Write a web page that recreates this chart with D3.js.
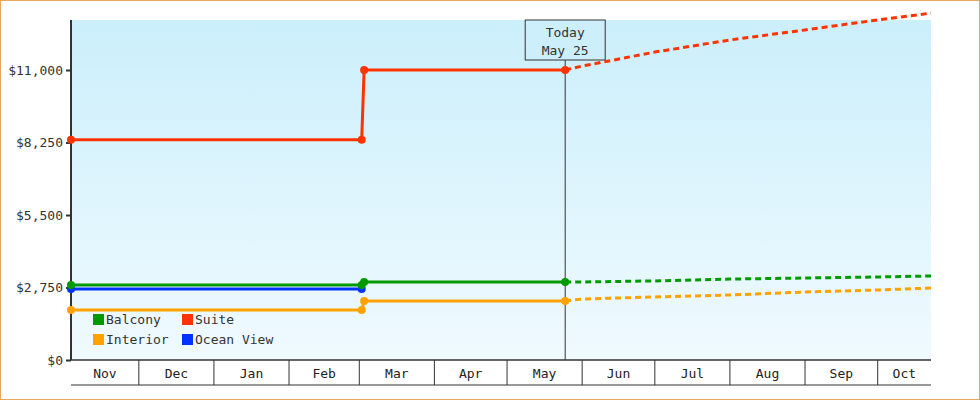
<!DOCTYPE html>
<html><head><meta charset="utf-8">
<script src="https://cdn.jsdelivr.net/npm/d3@7"></script>
<style>body{margin:0}svg{display:block;font-family:"DejaVu Sans Mono",monospace}</style>
</head><body>
<script>
const startDate="2023-11-03", endDate="2024-10-23", todayDate="2024-05-25";
const yTicks=[0,2750,5500,8250,11000];
const monthLabels=["Nov","Dec","Jan","Feb","Mar","Apr","May","Jun","Jul","Aug","Sep","Oct"];
const seriesNames=["Balcony","Suite","Interior","Ocean View"];
const colors={"Balcony":"#009a00","Suite":"#ff3300","Interior":"#ffa200","Ocean View":"#0033ff"};
// actual: [date, value]
const suiteActual=[["2023-11-03",8350],["2024-03-02",8350],["2024-03-03",11000],["2024-05-25",11000]];
const balconyActual=[["2023-11-03",2845],["2024-03-02",2845],["2024-03-03",2960],["2024-05-25",2960]];
const oceanActual=[["2023-11-03",2693],["2024-03-02",2693]];
const interiorActual=[["2023-11-03",1897],["2024-03-02",1897],["2024-03-03",2238],["2024-05-25",2238]];
const suiteForecast=[["2024-05-25",11000],["2024-06-01",11150],["2024-07-01",11680],["2024-08-01",12140],["2024-09-01",12520],["2024-10-01",12900],["2024-10-23",13160]];
const balconyForecast=[["2024-05-25",2960],["2024-06-01",2960],["2024-07-01",3000],["2024-08-01",3070],["2024-09-01",3110],["2024-10-01",3150],["2024-10-23",3186]];
const interiorForecast=[["2024-05-25",2238],["2024-06-01",2314],["2024-07-01",2390],["2024-08-01",2466],["2024-09-01",2579],["2024-10-01",2655],["2024-10-23",2731]];

const W=980,H=400,L=71,R=931,T=20,B=360;
const svg=d3.select("body").append("svg").attr("width",W).attr("height",H);
svg.append("rect").attr("x",0.5).attr("y",0.5).attr("width",W-1).attr("height",H-1).attr("fill","#fff").attr("stroke","#e8a860");
const grad=svg.append("defs").append("linearGradient").attr("id","bg").attr("x1",0).attr("y1",0).attr("x2",0).attr("y2",1);
grad.append("stop").attr("offset","0").attr("stop-color","#cbeffb");
grad.append("stop").attr("offset","1").attr("stop-color","#f0faff");
svg.append("rect").attr("x",L).attr("y",T).attr("width",R-L).attr("height",B-T).attr("fill","url(#bg)");
const p=d3.utcParse("%Y-%m-%d");
const x=d3.scaleUtc().domain([p(startDate),p(endDate)]).range([L,R]);
const y=d3.scaleLinear().domain([0,12897]).range([B,T]);
// y axis
const ya=svg.append("g").attr("transform",`translate(${L},0)`).call(d3.axisLeft(y).tickValues(yTicks).tickSize(5).tickFormat(d=>"$"+d3.format(",")(d)));
ya.select(".domain").attr("stroke","#333").attr("stroke-width",2).attr("d",`M0,${T}V${B}`);
ya.selectAll("text").attr("font-size",13).attr("fill","#333").attr("font-family","DejaVu Sans Mono");
ya.selectAll("line").attr("stroke","#333").attr("stroke-width",2);
// month band
const months=d3.utcMonth.range(d3.utcMonth.floor(p(startDate)),p(endDate));
const g=svg.append("g");
g.append("line").attr("x1",L).attr("x2",R).attr("y1",B).attr("y2",B).attr("stroke","#333").attr("stroke-width",1.5);
g.append("line").attr("x1",L).attr("x2",R).attr("y1",385).attr("y2",385).attr("stroke","#333");
months.forEach((m,i)=>{
  const a=Math.max(x(m),L), b=Math.min(x(d3.utcMonth.offset(m,1)),R);
  if(i>0) g.append("line").attr("x1",x(m)).attr("x2",x(m)).attr("y1",B).attr("y2",385).attr("stroke","#333");
  g.append("text").attr("x",(a+b)/2).attr("y",378).attr("text-anchor","middle").attr("font-size",13).attr("fill","#222").text(monthLabels[i]);
});
// today line
const tx=x(p(todayDate));
svg.append("line").attr("x1",tx).attr("x2",tx).attr("y1",60).attr("y2",B).attr("stroke","#333");
svg.append("rect").attr("x",tx-40).attr("y",20).attr("width",80).attr("height",40).attr("fill","#cdeffb").attr("stroke","#333");
svg.append("text").attr("x",tx).attr("y",37).attr("text-anchor","middle").attr("font-size",13).attr("fill","#333").text("Today");
svg.append("text").attr("x",tx).attr("y",55).attr("text-anchor","middle").attr("font-size",13).attr("fill","#333").text("May 25");
const line=d3.line().x(d=>x(p(d[0]))).y(d=>y(d[1]));
const actual={"Balcony":balconyActual,"Suite":suiteActual,"Interior":interiorActual,"Ocean View":oceanActual};
const fc={"Balcony":balconyForecast,"Suite":suiteForecast,"Interior":interiorForecast};
["Interior","Ocean View","Balcony","Suite"].forEach(n=>{
  if(fc[n]) svg.append("path").attr("d",line(fc[n])).attr("fill","none").attr("stroke",colors[n]).attr("stroke-width",3).attr("stroke-dasharray","6,4");
  svg.append("path").attr("d",line(actual[n])).attr("fill","none").attr("stroke",colors[n]).attr("stroke-width",3);
  svg.selectAll(null).data(actual[n]).enter().append("circle").attr("cx",d=>x(p(d[0]))).attr("cy",d=>y(d[1])).attr("r",4).attr("fill",colors[n]);
});
// legend
const lg=[["Balcony",93,320],["Suite",182,320],["Interior",93,340],["Ocean View",182,340]];
lg.forEach(([n,lx,ly])=>{
  svg.append("rect").attr("x",lx).attr("y",ly-6).attr("width",11).attr("height",11).attr("fill",colors[n]);
  svg.append("text").attr("x",lx+13).attr("y",ly+4).attr("font-size",13).attr("fill","#333").text(n);
});
</script></body></html>
